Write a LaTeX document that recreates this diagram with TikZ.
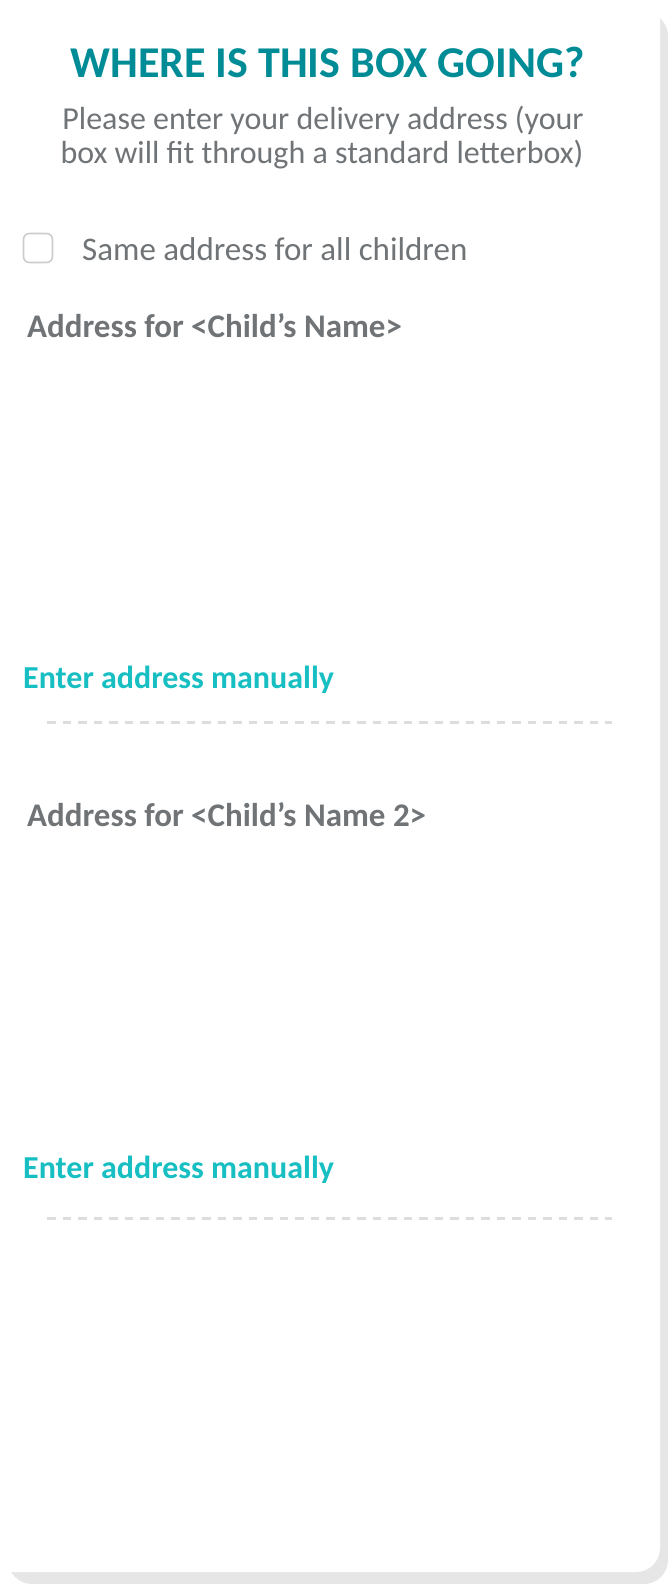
\documentclass[tikz,border=0pt]{standalone}
\usepackage{fontspec}
\setmainfont{Carlito}
\definecolor{titlecol}{HTML}{008C96}
\definecolor{textcol}{HTML}{707477}
\definecolor{linkcol}{HTML}{17BFC2}
\definecolor{boxcol}{HTML}{CCCCCC}
\definecolor{dashcol}{HTML}{DDDDDD}
\definecolor{shadowcol}{HTML}{E6E6E6}
\tikzset{
  titletext/.style={anchor=base, inner sep=0pt, text=titlecol, font=\fontsize{44}{44}\selectfont\bfseries},
  subtext/.style={inner sep=0pt, text=textcol, font=\fontsize{32}{33}\selectfont},
  plaintext/.style={anchor=base west, inner sep=0pt, text=textcol, font=\fontsize{33}{33}\selectfont},
  headtext/.style={anchor=base west, inner sep=0pt, text=textcol, font=\fontsize{33}{33}\selectfont\bfseries},
  linktext/.style={anchor=base west, inner sep=0pt, text=linkcol, font=\fontsize{32}{32}\selectfont\bfseries},
  checkbox/.style={draw=boxcol, line width=1.6pt, rounded corners=6pt, minimum width=29pt, minimum height=29pt, inner sep=0pt, fill=white},
  sepline/.style={draw=dashcol, line width=3pt, dash pattern=on 8.5pt off 7pt},
}
\begin{document}
\begin{tikzpicture}[x=1pt,y=-1pt]
\useasboundingbox (0,0) rectangle (668,1584);
% card and shadow
\fill[shadowcol, rounded corners=24pt] (8,12) rectangle (668,1584);
\fill[white, rounded corners=24pt] (-30,-30) rectangle (660,1572);
% title
\node[titletext] (title) at (327.5,78) {WHERE IS THIS BOX GOING?};
\node[subtext, anchor=base] (sub1) at (323,130) {Please enter your delivery address (your};
\node[subtext, anchor=base] (sub2) at (322,163) {box will fit through a standard letterbox)};
% checkbox
\node[checkbox] (cb) at (38,248) {};
\node[plaintext] (same) at (82,260) {Same address for all children};
% first address
\node[headtext] (addr1) at (27,337) {Address for <Child’s Name>};
\node[linktext] (man1) at (23,688) {Enter address manually};
\coordinate (d1a) at (47,722);
\coordinate (d1b) at (612,722);
\draw[sepline] (d1a) -- (d1b);
% second address
\node[headtext] (addr2) at (27,826) {Address for <Child’s Name 2>};
\node[linktext] (man2) at (23,1178) {Enter address manually};
\coordinate (d2a) at (47,1218);
\coordinate (d2b) at (612,1218);
\draw[sepline] (d2a) -- (d2b);
\end{tikzpicture}
\end{document}
